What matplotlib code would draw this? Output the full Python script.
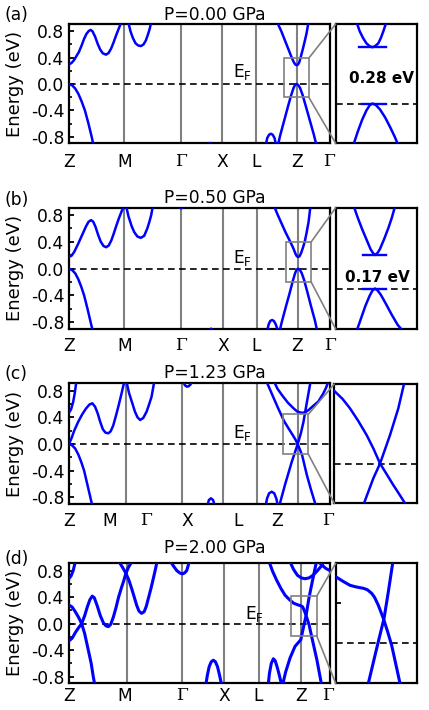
import matplotlib
matplotlib.use("Agg")
import matplotlib.pyplot as plt
from matplotlib.patches import Rectangle, ConnectionPatch
from matplotlib.ticker import MultipleLocator

plt.rcParams['font.family'] = ['DejaVu Sans']
plt.rcParams['axes.unicode_minus'] = False

# ---------------- data: (k, E) points ----------------
kpath = ['Z', 'M', 'Γ', 'X', 'L', 'Z', 'Γ']
pressures = ['P=0.00 GPa', 'P=0.50 GPa', 'P=1.23 GPa', 'P=2.00 GPa']
gap_text = ['0.28 eV', '0.17 eV', None, None]

# panel (a)
a_cb1 = [(0, 0.295), (0.01, 0.32), (0.019, 0.36), (0.028, 0.42), (0.038, 0.485), (0.048, 0.58),
         (0.058, 0.685), (0.067, 0.76), (0.076, 0.805), (0.083, 0.82), (0.09, 0.8), (0.1, 0.72),
         (0.11, 0.61), (0.12, 0.52), (0.13, 0.465), (0.142, 0.445), (0.152, 0.47), (0.162, 0.54),
         (0.172, 0.64), (0.182, 0.75), (0.192, 0.85), (0.2, 0.93)]
a_cb2 = [(0.228, 0.93), (0.236, 0.8), (0.245, 0.7), (0.255, 0.62), (0.265, 0.585), (0.276, 0.575),
         (0.286, 0.6), (0.295, 0.66), (0.303, 0.75), (0.31, 0.84), (0.315, 0.93)]
a_vb1 = [(0, 0), (0.012, -0.02), (0.024, -0.07), (0.036, -0.15), (0.048, -0.26), (0.061, -0.4),
         (0.074, -0.59), (0.087, -0.8), (0.094, -0.93)]
a_xdip = [(0.536, -0.93), (0.541, -0.895), (0.546, -0.93)]
a_bump = [(0.755, -0.93), (0.761, -0.82), (0.768, -0.77), (0.775, -0.755), (0.782, -0.77),
          (0.789, -0.82), (0.795, -0.93)]
a_cbz = [(0.8, 0.93), (0.815, 0.8), (0.83, 0.65), (0.845, 0.5), (0.855, 0.4), (0.863, 0.33),
         (0.869, 0.295), (0.874, 0.285), (0.879, 0.295), (0.884, 0.33), (0.889, 0.4), (0.897, 0.52),
         (0.905, 0.65), (0.912, 0.77), (0.919, 0.93)]
a_vbz = [(0.802, -0.93), (0.81, -0.79), (0.825, -0.57), (0.84, -0.35), (0.852, -0.18), (0.862, -0.06),
         (0.868, -0.015), (0.874, 0), (0.88, -0.015), (0.887, -0.06), (0.897, -0.17), (0.91, -0.35),
         (0.925, -0.56), (0.94, -0.77), (0.95, -0.93)]
a_in_cb = [(0.8505, 0.41), (0.854, 0.365), (0.858, 0.33), (0.862, 0.303), (0.866, 0.288), (0.869, 0.283),
           (0.872, 0.288), (0.876, 0.303), (0.879, 0.33), (0.882, 0.365), (0.8855, 0.41)]
a_in_vb = [(0.847, -0.205), (0.852, -0.14), (0.857, -0.082), (0.862, -0.035), (0.866, -0.008), (0.869, 0),
           (0.873, -0.007), (0.878, -0.03), (0.884, -0.07), (0.89, -0.12), (0.895, -0.165), (0.8995, -0.21)]
a_in_edges = [(0.8535, 0.8846, 0.283), (0.8573, 0.8846, 0.0)]

# panel (b)
b_cb1 = [(0, 0.175), (0.01, 0.195), (0.02, 0.25), (0.035, 0.37), (0.05, 0.5), (0.065, 0.63), (0.075, 0.7),
         (0.0845, 0.725), (0.093, 0.7), (0.102, 0.62), (0.112, 0.5), (0.122, 0.4), (0.132, 0.34),
         (0.142, 0.32), (0.152, 0.345), (0.162, 0.42), (0.172, 0.53), (0.182, 0.65), (0.192, 0.76),
         (0.202, 0.86), (0.21, 0.93)]
b_cb2 = [(0.219, 0.93), (0.228, 0.78), (0.24, 0.635), (0.25, 0.545), (0.262, 0.48), (0.275, 0.46),
         (0.288, 0.49), (0.3, 0.6), (0.308, 0.7), (0.315, 0.8), (0.321, 0.93)]
b_vb1 = [(0, 0), (0.012, -0.02), (0.024, -0.07), (0.036, -0.16), (0.047, -0.27), (0.058, -0.4),
         (0.071, -0.6), (0.083, -0.8), (0.091, -0.93)]
b_gdip = [(0.425, 0.93), (0.43, 0.9), (0.435, 0.93)]
b_xdip = [(0.538, -0.93), (0.544, -0.895), (0.55, -0.93)]
b_bump = [(0.759, -0.93), (0.765, -0.83), (0.771, -0.78), (0.778, -0.766), (0.785, -0.78),
          (0.792, -0.83), (0.801, -0.93)]
b_cbz = [(0.786, 0.93), (0.8, 0.8), (0.815, 0.67), (0.83, 0.54), (0.848, 0.4), (0.86, 0.3), (0.868, 0.22),
         (0.873, 0.185), (0.878, 0.175), (0.883, 0.185), (0.889, 0.23), (0.896, 0.31), (0.903, 0.4),
         (0.91, 0.53), (0.918, 0.7), (0.925, 0.93)]
b_vbz = [(0.807, -0.93), (0.815, -0.8), (0.83, -0.58), (0.845, -0.37), (0.857, -0.19), (0.866, -0.07),
         (0.872, -0.015), (0.878, 0), (0.884, -0.015), (0.891, -0.06), (0.901, -0.17), (0.914, -0.36),
         (0.928, -0.57), (0.942, -0.77), (0.951, -0.93)]
b_in_cb = [(0.853, 0.41), (0.858, 0.35), (0.863, 0.295), (0.868, 0.245), (0.873, 0.195), (0.876, 0.175),
           (0.8783, 0.166), (0.881, 0.175), (0.884, 0.195), (0.889, 0.245), (0.894, 0.3), (0.898, 0.35),
           (0.902, 0.41)]
b_in_vb = [(0.857, -0.205), (0.862, -0.145), (0.867, -0.085), (0.872, -0.035), (0.8755, -0.008),
           (0.8783, 0), (0.881, -0.008), (0.885, -0.03), (0.891, -0.075), (0.898, -0.13), (0.905, -0.18),
           (0.911, -0.21)]
b_in_edges = [(0.8644, 0.8909, 0.166), (0.8644, 0.8915, 0.0)]

# panel (c)
c_cb0 = [(0, 0.47), (0.008, 0.52), (0.016, 0.63), (0.022, 0.76), (0.028, 0.93)]
c_cb1 = [(0, 0), (0.01, 0.09), (0.02, 0.2), (0.035, 0.33), (0.05, 0.44), (0.065, 0.53), (0.078, 0.59),
         (0.0895, 0.61), (0.1, 0.56), (0.11, 0.46), (0.12, 0.33), (0.13, 0.22), (0.14, 0.17),
         (0.151, 0.16), (0.16, 0.19), (0.17, 0.28), (0.18, 0.42), (0.19, 0.57), (0.2, 0.73), (0.212, 0.93)]
c_cb2 = [(0.221, 0.93), (0.23, 0.77), (0.241, 0.636), (0.253, 0.486), (0.263, 0.4), (0.273, 0.36),
         (0.285, 0.39), (0.298, 0.486), (0.308, 0.6), (0.317, 0.71), (0.327, 0.93)]
c_vb1 = [(0, 0), (0.012, -0.02), (0.024, -0.07), (0.036, -0.16), (0.047, -0.27), (0.058, -0.4),
         (0.07, -0.6), (0.082, -0.8), (0.0895, -0.93)]
c_xarc = [(0.439, 0.93), (0.445, 0.88), (0.452, 0.86), (0.459, 0.865), (0.466, 0.89), (0.471, 0.93)]
c_bump1 = [(0.531, -0.93), (0.537, -0.84), (0.545, -0.815), (0.553, -0.84), (0.56, -0.93)]
c_bump2 = [(0.755, -0.93), (0.76, -0.82), (0.768, -0.74), (0.778, -0.716), (0.788, -0.74),
           (0.796, -0.82), (0.802, -0.93)]
c_line1 = [(0.759, 0.93), (0.78, 0.74), (0.803, 0.535), (0.826, 0.34), (0.845, 0.22), (0.861, 0.12),
           (0.87, 0.06), (0.878, 0.0), (0.895, -0.17), (0.913, -0.465), (0.93, -0.7), (0.948, -0.93)]
c_line2 = [(0.807, -0.93), (0.83, -0.6), (0.855, -0.27), (0.878, 0.0), (0.89, 0.16), (0.9, 0.33),
           (0.912, 0.6), (0.927, 0.93)]
c_uband = [(0.788, 0.93), (0.8, 0.83), (0.817, 0.736), (0.84, 0.62), (0.862, 0.535), (0.875, 0.49),
           (0.887, 0.472), (0.897, 0.468), (0.906, 0.475), (0.92, 0.51), (0.94, 0.58), (0.957, 0.636),
           (0.975, 0.75), (0.986, 0.836), (0.995, 0.93)]
c_in_1 = [(0.823, 0.365), (0.8326, 0.325), (0.8412, 0.278), (0.8508, 0.215), (0.8607, 0.143),
          (0.8686, 0.075), (0.8763, 0.0), (0.8835, -0.05), (0.8917, -0.108), (0.8988, -0.155), (0.9054, -0.2)]
c_in_2 = [(0.8576, -0.2), (0.8685, -0.074), (0.8763, 0.0), (0.8879, 0.143), (0.8976, 0.278), (0.9042, 0.4)]

# panel (d)
d_b1 = [(0, 0.68), (0.008, 0.72), (0.016, 0.8), (0.024, 0.93)]
d_b2 = [(0, 0.28), (0.012, 0.25), (0.024, 0.18), (0.036, 0.1), (0.0485, 0.0), (0.06, -0.15),
        (0.074, -0.4), (0.085, -0.6), (0.093, -0.8), (0.099, -0.93)]
d_b3 = [(0, -0.26), (0.012, -0.22), (0.025, -0.13), (0.037, -0.06), (0.0485, 0.0), (0.06, 0.12),
        (0.07, 0.25), (0.08, 0.36), (0.089, 0.415), (0.097, 0.39), (0.108, 0.27), (0.12, 0.12),
        (0.132, 0.01), (0.142, -0.035), (0.151, -0.045), (0.16, -0.01), (0.17, 0.1), (0.18, 0.24),
        (0.19, 0.4), (0.2, 0.53), (0.21, 0.65), (0.218, 0.76), (0.228, 0.85), (0.24, 0.93)]
d_b4 = [(0.192, 0.93), (0.205, 0.85), (0.218, 0.76), (0.23, 0.65), (0.24, 0.53), (0.25, 0.4),
        (0.259, 0.28), (0.268, 0.19), (0.278, 0.155), (0.288, 0.18), (0.296, 0.26), (0.304, 0.38),
        (0.314, 0.53), (0.323, 0.68), (0.33, 0.8), (0.337, 0.93)]
d_gdip = [(0.39, 0.93), (0.4, 0.87), (0.413, 0.8), (0.424, 0.765), (0.434, 0.75), (0.443, 0.765),
          (0.451, 0.8), (0.457, 0.88), (0.46, 0.93)]
d_xbump = [(0.524, -0.93), (0.53, -0.78), (0.537, -0.65), (0.545, -0.575), (0.553, -0.552),
           (0.561, -0.575), (0.569, -0.65), (0.577, -0.78), (0.585, -0.93)]
d_lbump = [(0.763, -0.93), (0.768, -0.75), (0.775, -0.6), (0.783, -0.53), (0.79, -0.56),
           (0.798, -0.66), (0.806, -0.78), (0.815, -0.93)]
d_line1 = [(0.767, 0.93), (0.78, 0.79), (0.796, 0.652), (0.812, 0.53), (0.828, 0.428), (0.845, 0.36),
           (0.86, 0.31), (0.875, 0.285), (0.888, 0.27), (0.895, 0.255), (0.9, 0.21), (0.906, 0.15),
           (0.911, 0.09), (0.92, -0.02), (0.93, -0.2), (0.95, -0.55), (0.968, -0.93)]
d_line2 = [(0.818, -0.93), (0.83, -0.73), (0.847, -0.517), (0.866, -0.343), (0.888, -0.243),
           (0.8905, -0.2), (0.9, -0.025), (0.9085, 0.125), (0.914, 0.258), (0.92, 0.4), (0.933, 0.65),
           (0.948, 0.93)]
d_uband = [(0.847, 0.93), (0.86, 0.82), (0.875, 0.73), (0.89, 0.69), (0.904, 0.677), (0.92, 0.69),
           (0.935, 0.73), (0.95, 0.79), (0.965, 0.86), (0.975, 0.93)]
d_gtop = [(0.957, 0.93), (0.97, 0.88), (0.985, 0.83), (1.0, 0.8)]
d_in_1 = [(0.851, 0.333), (0.8598, 0.31), (0.8683, 0.29), (0.8755, 0.282), (0.8845, 0.275),
          (0.8892, 0.268), (0.8945, 0.25), (0.898, 0.23), (0.9026, 0.19), (0.9086, 0.125),
          (0.9137, 0.06), (0.9187, -0.01), (0.9235, -0.1), (0.9288, -0.2)]
d_in_2 = [(0.8905, -0.2), (0.9006, -0.025), (0.9095, 0.125), (0.9147, 0.258), (0.9199, 0.4)]

bands = [
    [a_cb1, a_cb2, a_vb1, a_xdip, a_bump, a_cbz, a_vbz],
    [b_cb1, b_cb2, b_vb1, b_gdip, b_xdip, b_bump, b_cbz, b_vbz],
    [c_cb0, c_cb1, c_cb2, c_vb1, c_xarc, c_bump1, c_bump2, c_line1, c_line2, c_uband],
    [d_b1, d_b2, d_b3, d_b4, d_gdip, d_xbump, d_lbump, d_line1, d_line2, d_uband, d_gtop],
]
inset_bands = [[a_in_cb, a_in_vb], [b_in_cb, b_in_vb], [c_in_1, c_in_2], [d_in_1, d_in_2]]
inset_edges = [a_in_edges, b_in_edges, [], []]

# high-symmetry lines and label positions (k units)
sym_lines = [[0.212, 0.43, 0.589, 0.717, 0.874],
             [0.212, 0.43, 0.589, 0.72, 0.878],
             [0.218, 0.435, 0.59, 0.72, 0.88],
             [0.221, 0.434, 0.594, 0.727, 0.888]]
label_k = [[0, 0.215, 0.43, 0.589, 0.718, 0.874, 1.0],
           [0, 0.215, 0.43, 0.592, 0.718, 0.874, 1.0],
           [0, 0.157, 0.296, 0.453, 0.649, 0.798, 0.994],
           [0, 0.215, 0.434, 0.595, 0.726, 0.89, 0.994]]
zoom_box = [(0.826, 0.921, -0.205, 0.395), (0.832, 0.928, -0.2, 0.4),
            (0.823, 0.919, -0.155, 0.446), (0.851, 0.949, -0.184, 0.413)]

# ---------------- layout (pixels) ----------------
W, H = 429, 710
main_px = [(69, 24, 329.5, 143.3), (69, 207.7, 330, 329), (69, 383.3, 329.5, 504), (69, 563.3, 330, 683.3)]
inset_px = [(335.7, 24, 416.7, 143.3), (335.7, 207.7, 417.3, 329), (334.3, 384, 416.7, 503.3),
            (335.7, 563.3, 416.7, 683.3)]
title_y = [19.5, 203.3, 378.3, 553.3]
letter_y = [19.5, 205, 379, 564]
ef_pos = [(0.63, 0.1), (0.63, 0.085), (0.63, 0.085), (0.674, 0.07)]
gap_pos = [(0.56, 0.503), (0.51, 0.39)]
xpad = [7, 6, 5.5, 2.5]
letters = ['(a)', '(b)', '(c)', '(d)']

FS = 12.3
BLUE = '#0000ff'
GRAY = '#808080'


def rect(p):
    l, t, r, b = p
    return [l / W, 1 - b / H, (r - l) / W, (b - t) / H]


fig = plt.figure(figsize=(W / 100, H / 100), dpi=100)

for i in range(4):
    lw_band = 2.2 if i == 3 else 1.8
    ax = fig.add_axes(rect(main_px[i]))
    for k in sym_lines[i]:
        ax.axvline(k, color=GRAY, lw=1.5, zorder=1)
    ax.axhline(0, color='k', lw=1.2, dashes=(4, 2.6), zorder=2)
    for band in bands[i]:
        ax.plot([p[0] for p in band], [p[1] for p in band], color=BLUE, lw=lw_band, zorder=3)
    ax.set_xlim(0, 1)
    ax.set_ylim(-0.9, 0.91)
    ax.yaxis.set_minor_locator(MultipleLocator(0.2))
    ax.set_yticks([-0.8, -0.4, 0.0, 0.4, 0.8])
    ax.set_yticklabels(['-0.8', '-0.4', '0.0', '0.4', '0.8'], fontsize=FS)
    ax.tick_params(axis='y', which='major', direction='in', length=3.6, width=1.3, pad=3.5)
    ax.tick_params(axis='y', which='minor', direction='in', length=2.2, width=1.2)
    ax.set_xticks(label_k[i])
    ax.set_xticklabels(kpath, fontsize=FS)
    for lbl in ax.get_xticklabels():
        if lbl.get_text() == 'Γ':
            lbl.set_fontfamily('DejaVu Serif')
    ax.tick_params(axis='x', length=0, pad=xpad[i])
    ax.set_ylabel('Energy (eV)', fontsize=13)
    ax.yaxis.set_label_coords(-0.172, 0.5)
    for s in ax.spines.values():
        s.set_linewidth(1.6)
    ax.text(ef_pos[i][0], ef_pos[i][1], r'E$_\mathregular{F}$', fontsize=FS, va='baseline')

    x0, x1, e0, e1 = zoom_box[i]
    ax.add_patch(Rectangle((x0, e0), x1 - x0, e1 - e0, fill=False, ec=GRAY, lw=1.2, zorder=4))

    axin = fig.add_axes(rect(inset_px[i]))
    axin.axhline(0, color='k', lw=1.2, dashes=(4, 2.6), zorder=2)
    for band in inset_bands[i]:
        axin.plot([p[0] for p in band], [p[1] for p in band], color=BLUE, lw=lw_band, zorder=3)
    for xa, xb, e in inset_edges[i]:
        axin.plot([xa, xb], [e, e], color=BLUE, lw=1.7, zorder=3)
    axin.set_xlim(x0, x1)
    axin.set_ylim(-0.2, 0.4)
    axin.set_xticks([])
    if i == 3:
        axin.set_yticks([0.2])
        axin.tick_params(axis='y', direction='in', length=3.6, width=1.3, labelleft=False)
    else:
        axin.set_yticks([])
    for s in axin.spines.values():
        s.set_linewidth(1.6)
    if gap_text[i]:
        axin.text(gap_pos[i][0], gap_pos[i][1], gap_text[i], transform=axin.transAxes,
                  fontsize=11, fontweight='bold', ha='center', va='baseline')

    for ya, yb in [(e1, 1), (e0, 0)]:
        con = ConnectionPatch(xyA=(x1, ya), coordsA='data', axesA=ax,
                              xyB=(0, yb), coordsB='axes fraction', axesB=axin,
                              color=GRAY, lw=1.2)
        fig.add_artist(con)

    fig.text(0.5, 1 - title_y[i] / H, pressures[i], fontsize=FS, ha='center', va='baseline')
    fig.text(5 / W, 1 - letter_y[i] / H, letters[i], fontsize=FS, ha='left', va='baseline')

fig.savefig('out.png', dpi=100)
